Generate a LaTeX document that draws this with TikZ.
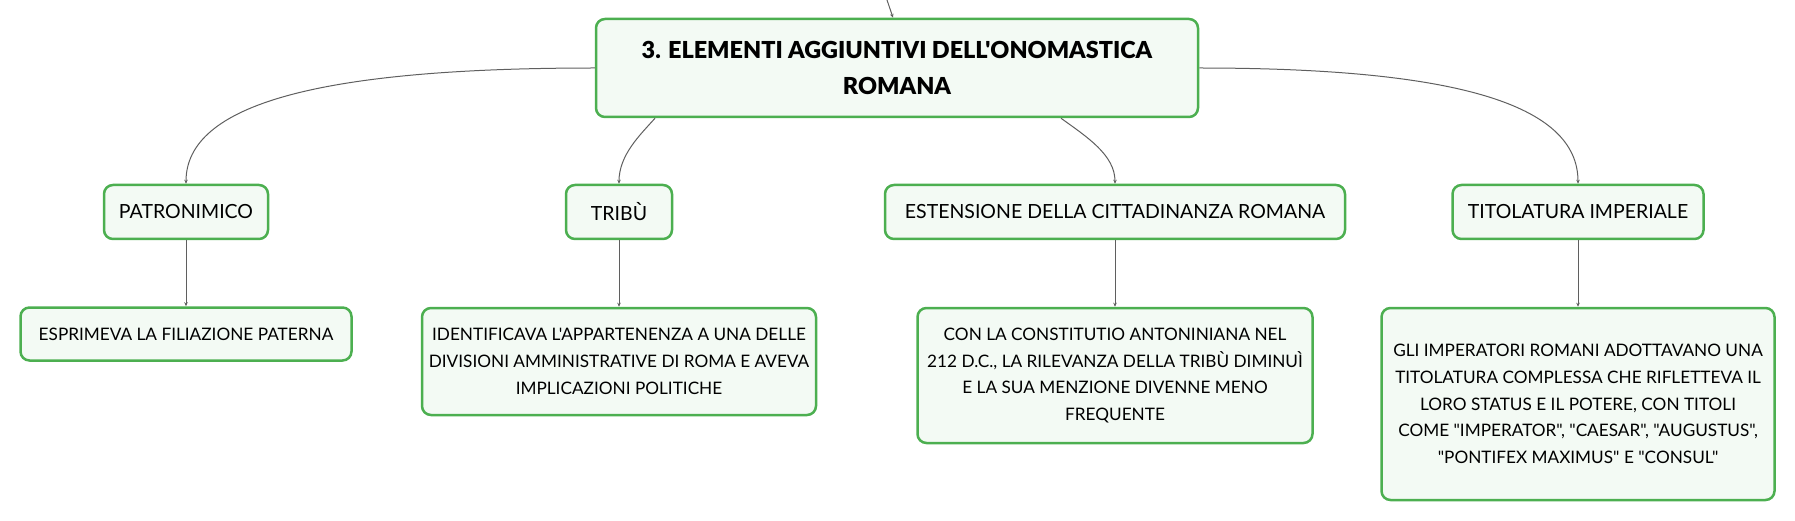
\documentclass[tikz,border=0pt]{standalone}
\usepackage{fontspec}
\setmainfont{Lato}[Ligatures=TeXOff]
\newfontfamily\titlefont{Lato Black}[Ligatures=TeXOff]
\usetikzlibrary{arrows.meta}
\definecolor{boxgreen}{RGB}{76,175,80}
\definecolor{boxfill}{RGB}{243,250,244}
\definecolor{linkgray}{RGB}{95,95,95}
\tikzset{>={Stealth[length=4pt,width=3.5pt]}}

\begin{document}
\begin{tikzpicture}[x=1pt,y=-1pt,
    topic/.style={draw=boxgreen, line width=2.5pt, fill=boxfill, rounded corners=9pt,
        align=center, inner sep=0pt, font=\fontsize{17.2}{26.7}\selectfont},
    subtopic/.style={topic, minimum height=54pt, font=\fontsize{19.5}{24}\selectfont},
    link/.style={draw=linkgray, line width=1pt, ->}]
    \useasboundingbox (0,0) rectangle (1795,521);
    \node[topic, minimum width=602pt, minimum height=98pt,
        font=\titlefont\fontsize{23.4}{36}\selectfont] (main) at (897,68)
        {3. ELEMENTI AGGIUNTIVI DELL'ONOMASTICA\\ROMANA};
    \node[subtopic, minimum width=164pt] (patr) at (186,212) {PATRONIMICO};
    \node[subtopic, minimum width=106pt] (tribu) at (619,212) {TRIBÙ};
    \node[subtopic, minimum width=460pt] (est) at (1115,212) {ESTENSIONE DELLA CITTADINANZA ROMANA};
    \node[subtopic, minimum width=251pt] (tit) at (1578,212) {TITOLATURA IMPERIALE};
    \node[topic, minimum width=331pt, minimum height=53pt] (espr) at (186,334)
        {ESPRIMEVA LA FILIAZIONE PATERNA};
    \node[topic, minimum width=394pt, minimum height=107pt] (ident) at (619,361.5)
        {IDENTIFICAVA L'APPARTENENZA A UNA DELLE\\DIVISIONI AMMINISTRATIVE DI ROMA E AVEVA\\IMPLICAZIONI POLITICHE};
    \node[topic, minimum width=395pt, minimum height=135pt] (con) at (1115,375.5)
        {CON LA CONSTITUTIO ANTONINIANA NEL\\212 D.C., LA RILEVANZA DELLA TRIBÙ DIMINUÌ\\E LA SUA MENZIONE DIVENNE MENO\\FREQUENTE};
    \node[topic, minimum width=393pt, minimum height=192pt] (gli) at (1578,404)
        {GLI IMPERATORI ROMANI ADOTTAVANO UNA\\TITOLATURA COMPLESSA CHE RIFLETTEVA IL\\LORO STATUS E IL POTERE, CON TITOLI\\COME "IMPERATOR", "CAESAR", "AUGUSTUS",\\"PONTIFEX MAXIMUS" E "CONSUL"};
    \coordinate (up) at (887,0);
    \draw[link] (up) -- ([xshift=-4pt]main.north);
    \draw[link] (main.west) .. controls (320,68) and (186,104) .. (patr.north);
    \draw[link] ([xshift=-242pt]main.south) .. controls (640,135) and (619,155) .. (tribu.north);
    \draw[link] ([xshift=164pt]main.south) .. controls (1087,137) and (1115,155) .. (est.north);
    \draw[link] (main.east) .. controls (1455,68) and (1578,104) .. (tit.north);
    \draw[link] (patr.south) -- (espr.north);
    \draw[link] (tribu.south) -- (ident.north);
    \draw[link] (est.south) -- (con.north);
    \draw[link] (tit.south) -- (gli.north);
\end{tikzpicture}
\end{document}
